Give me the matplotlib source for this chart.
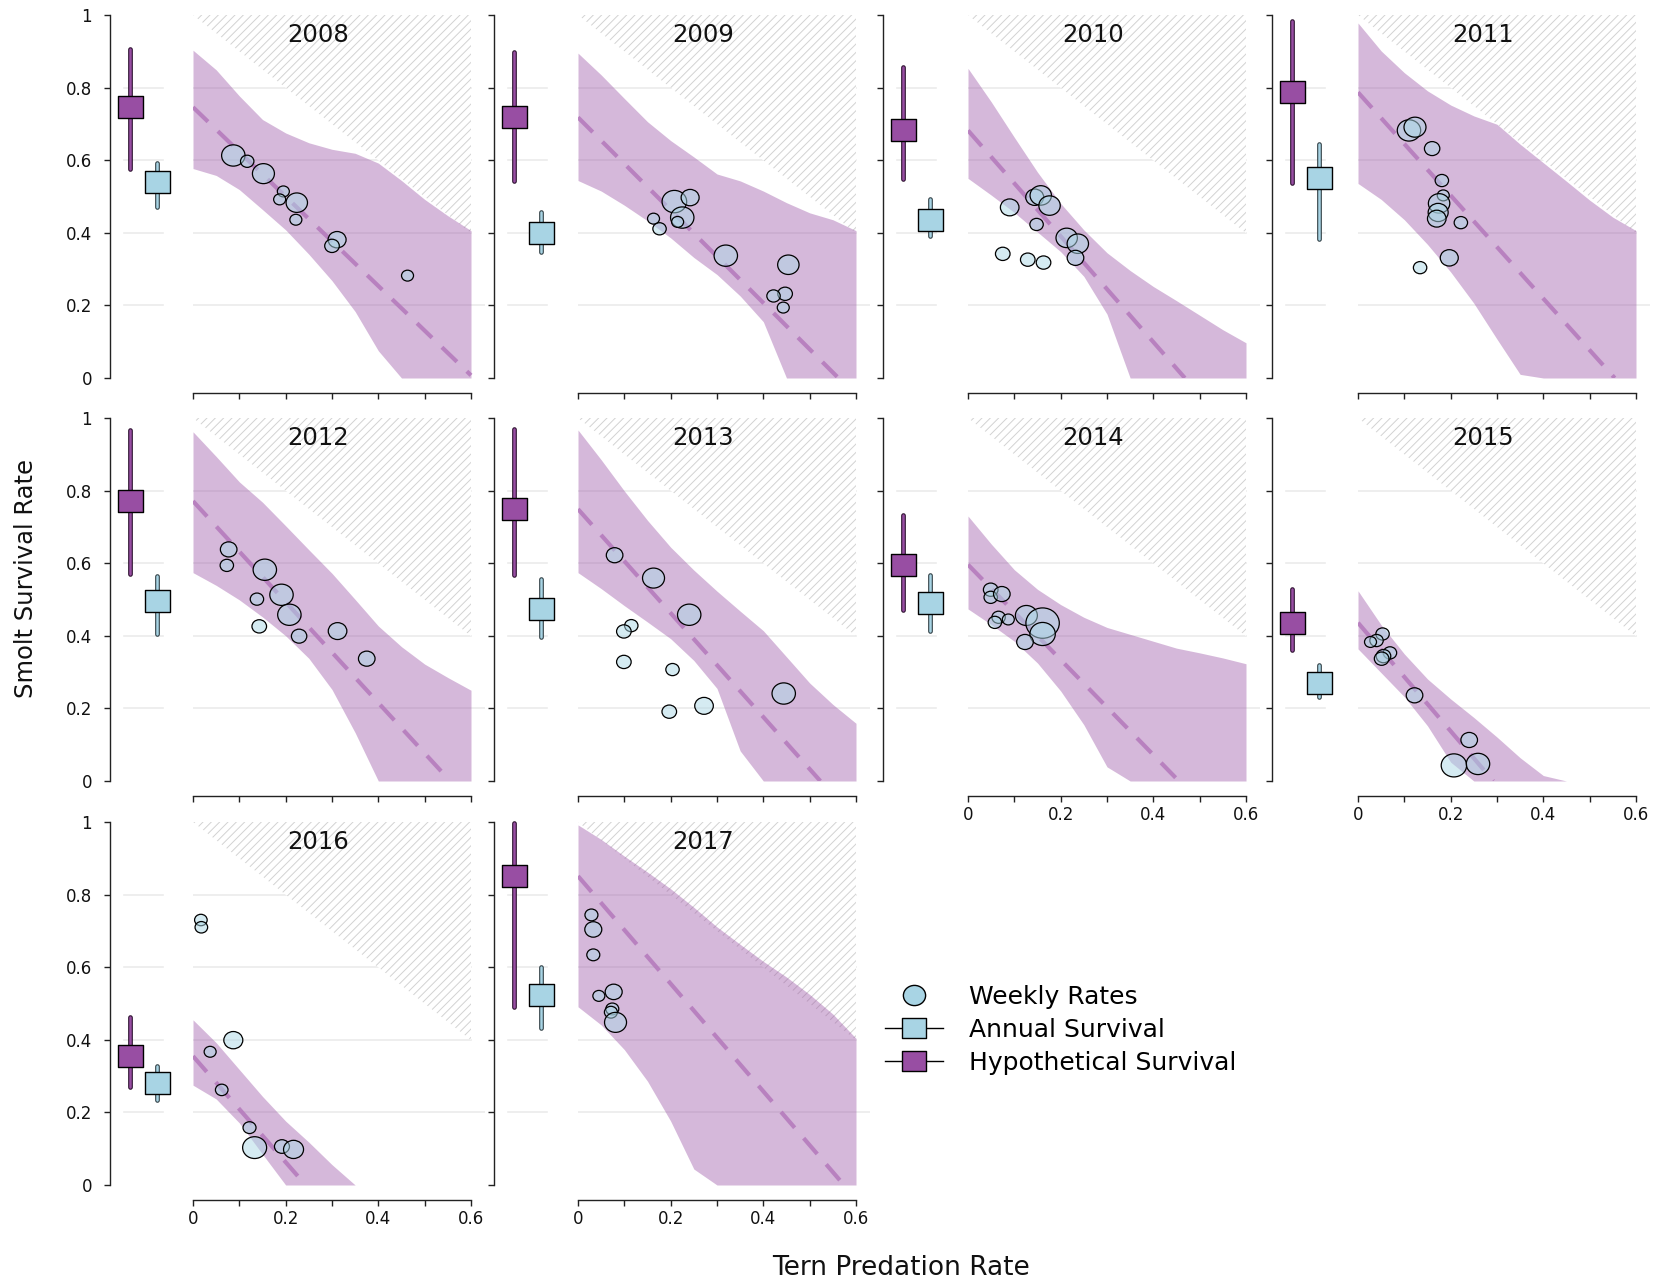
import numpy as np
import matplotlib
matplotlib.use("Agg")
import matplotlib.pyplot as plt
from matplotlib.path import Path
from matplotlib.patches import Polygon
from matplotlib.lines import Line2D

# ---- survival summaries per year ----
years = [2008, 2009, 2010, 2011, 2012, 2013, 2014, 2015, 2016, 2017]

# hypothetical survival (no tern predation): median and interval
hyp_med = [0.746, 0.718, 0.682, 0.787, 0.771, 0.749, 0.596, 0.436, 0.355, 0.851]
hyp_lo = [0.577, 0.544, 0.547, 0.536, 0.570, 0.568, 0.472, 0.362, 0.271, 0.491]
hyp_hi = [0.906, 0.898, 0.856, 0.983, 0.967, 0.969, 0.734, 0.529, 0.462, 0.996]

# observed annual survival: median and interval
ann_med = [0.539, 0.399, 0.436, 0.551, 0.495, 0.474, 0.490, 0.271, 0.280, 0.523]
ann_lo = [0.471, 0.348, 0.390, 0.384, 0.405, 0.396, 0.413, 0.232, 0.234, 0.432]
ann_hi = [0.592, 0.456, 0.492, 0.646, 0.565, 0.556, 0.568, 0.319, 0.328, 0.601]

# predation rate at which the expected survival line reaches zero
zero_at = [0.606, 0.562, 0.468, 0.554, 0.555, 0.523, 0.455, 0.292, 0.243, 0.574]

# credible band of survival vs predation rate
band_x = [0.0, 0.05, 0.1, 0.15, 0.2, 0.25, 0.3, 0.35, 0.4, 0.45, 0.5, 0.55, 0.6]
band_hi = [
    [0.903, 0.849, 0.777, 0.712, 0.675, 0.648, 0.630, 0.619, 0.592, 0.544, 0.492, 0.447, 0.406],
    [0.895, 0.835, 0.770, 0.706, 0.654, 0.609, 0.562, 0.543, 0.515, 0.483, 0.455, 0.436, 0.406],
    [0.853, 0.761, 0.663, 0.567, 0.481, 0.408, 0.345, 0.296, 0.252, 0.213, 0.173, 0.133, 0.097],
    [0.978, 0.901, 0.841, 0.791, 0.752, 0.722, 0.699, 0.644, 0.593, 0.542, 0.490, 0.443, 0.406],
    [0.962, 0.894, 0.824, 0.768, 0.703, 0.637, 0.572, 0.500, 0.427, 0.370, 0.322, 0.285, 0.250],
    [0.967, 0.885, 0.799, 0.718, 0.644, 0.581, 0.523, 0.468, 0.414, 0.342, 0.270, 0.211, 0.159],
    [0.730, 0.653, 0.582, 0.528, 0.486, 0.451, 0.423, 0.404, 0.385, 0.366, 0.353, 0.339, 0.323],
    [0.524, 0.430, 0.350, 0.281, 0.226, 0.175, 0.121, 0.064, 0.015, 0.0, 0.0, 0.0, 0.0],
    [0.455, 0.392, 0.318, 0.244, 0.176, 0.118, 0.056, 0.0, 0.0, 0.0, 0.0, 0.0, 0.0],
    [0.992, 0.952, 0.906, 0.862, 0.816, 0.765, 0.711, 0.663, 0.616, 0.573, 0.525, 0.471, 0.404],
]
band_lo = [
    [0.577, 0.558, 0.519, 0.464, 0.408, 0.341, 0.268, 0.183, 0.075, 0.0, 0.0, 0.0, 0.0],
    [0.544, 0.515, 0.476, 0.433, 0.386, 0.332, 0.285, 0.226, 0.155, 0.0, 0.0, 0.0, 0.0],
    [0.550, 0.504, 0.456, 0.402, 0.348, 0.280, 0.176, 0.0, 0.0, 0.0, 0.0, 0.0, 0.0],
    [0.536, 0.492, 0.436, 0.368, 0.292, 0.206, 0.107, 0.010, 0.0, 0.0, 0.0, 0.0, 0.0],
    [0.574, 0.539, 0.499, 0.452, 0.400, 0.338, 0.252, 0.133, 0.0, 0.0, 0.0, 0.0, 0.0],
    [0.574, 0.530, 0.483, 0.438, 0.392, 0.332, 0.255, 0.083, 0.0, 0.0, 0.0, 0.0, 0.0],
    [0.474, 0.431, 0.385, 0.325, 0.248, 0.155, 0.039, 0.0, 0.0, 0.0, 0.0, 0.0, 0.0],
    [0.364, 0.298, 0.232, 0.152, 0.052, 0.0, 0.0, 0.0, 0.0, 0.0, 0.0, 0.0, 0.0],
    [0.275, 0.237, 0.171, 0.085, 0.0, 0.0, 0.0, 0.0, 0.0, 0.0, 0.0, 0.0, 0.0],
    [0.491, 0.441, 0.373, 0.286, 0.176, 0.044, 0.0, 0.0, 0.0, 0.0, 0.0, 0.0, 0.0],
]

# weekly release groups: predation rate, survival, bubble weight
wk_x = [
    [0.087, 0.117, 0.152, 0.195, 0.187, 0.224, 0.222, 0.311, 0.300, 0.463],
    [0.208, 0.242, 0.225, 0.215, 0.163, 0.176, 0.319, 0.454, 0.447, 0.422, 0.443],
    [0.090, 0.144, 0.157, 0.176, 0.148, 0.213, 0.237, 0.232, 0.075, 0.129, 0.163],
    [0.110, 0.123, 0.160, 0.181, 0.184, 0.175, 0.173, 0.170, 0.222, 0.197, 0.134],
    [0.077, 0.073, 0.155, 0.138, 0.191, 0.208, 0.143, 0.229, 0.312, 0.375],
    [0.079, 0.163, 0.240, 0.115, 0.099, 0.099, 0.204, 0.272, 0.197, 0.444],
    [0.049, 0.049, 0.073, 0.066, 0.058, 0.087, 0.126, 0.161, 0.161, 0.123],
    [0.053, 0.040, 0.027, 0.069, 0.055, 0.051, 0.122, 0.240, 0.207, 0.259],
    [0.017, 0.018, 0.087, 0.037, 0.062, 0.122, 0.133, 0.192, 0.217],
    [0.029, 0.033, 0.033, 0.045, 0.077, 0.074, 0.071, 0.081],
]
wk_y = [
    [0.613, 0.597, 0.563, 0.514, 0.492, 0.483, 0.436, 0.381, 0.364, 0.282],
    [0.486, 0.497, 0.442, 0.430, 0.439, 0.411, 0.337, 0.312, 0.232, 0.226, 0.194],
    [0.470, 0.498, 0.503, 0.475, 0.423, 0.386, 0.370, 0.331, 0.342, 0.326, 0.318],
    [0.682, 0.691, 0.632, 0.544, 0.503, 0.481, 0.456, 0.439, 0.428, 0.331, 0.304],
    [0.638, 0.594, 0.582, 0.501, 0.513, 0.458, 0.426, 0.399, 0.413, 0.337],
    [0.622, 0.559, 0.458, 0.428, 0.412, 0.328, 0.307, 0.207, 0.191, 0.241],
    [0.527, 0.506, 0.515, 0.451, 0.437, 0.445, 0.456, 0.435, 0.405, 0.383],
    [0.405, 0.387, 0.383, 0.353, 0.344, 0.337, 0.236, 0.113, 0.043, 0.047],
    [0.730, 0.710, 0.399, 0.367, 0.262, 0.158, 0.103, 0.106, 0.098],
    [0.744, 0.704, 0.634, 0.521, 0.532, 0.485, 0.476, 0.448],
]
wk_n = [
    [11.7, 6.7, 11.0, 6.0, 6.0, 10.7, 6.0, 9.0, 7.3, 6.0],
    [12.3, 9.0, 11.7, 6.0, 6.0, 6.7, 11.7, 10.7, 7.3, 6.7, 6.0],
    [9.3, 9.0, 10.7, 10.7, 6.7, 10.7, 10.7, 8.3, 7.3, 7.3, 7.3],
    [11.7, 11.0, 7.7, 6.7, 6.0, 10.7, 10.0, 9.3, 6.7, 9.0, 6.7],
    [8.3, 6.7, 11.7, 6.7, 11.7, 11.7, 7.3, 7.7, 9.3, 8.3],
    [8.3, 11.0, 11.7, 6.7, 7.3, 7.3, 6.7, 9.3, 7.3, 11.7],
    [7.3, 6.7, 8.3, 6.7, 6.7, 6.0, 11.0, 16.7, 12.7, 8.3],
    [6.7, 6.7, 6.0, 6.7, 7.3, 7.3, 8.3, 8.3, 12.7, 11.7],
    [6.3, 6.3, 9.5, 6.0, 6.3, 6.5, 12.0, 7.5, 10.0],
    [6.5, 8.5, 6.5, 6.0, 8.5, 6.5, 6.5, 11.0],
]

y_ticks = [0, 0.2, 0.4, 0.6, 0.8, 1]
y_ticklabels = ["0", "0.2", "0.4", "0.6", "0.8", "1"]
x_ticks = [0, 0.2, 0.4, 0.6]
x_ticklabels = ["0", "0.2", "0.4", "0.6"]

# ---- colours ----
purple = "#984ea3"
lightblue = "#a8d4e4"
grid_col = "#ebebeb"
ink = "#222222"

plt.rcParams["font.family"] = "DejaVu Sans"
plt.rcParams["hatch.linewidth"] = 0.7

W, H = 1653, 1281
fig = plt.figure(figsize=(W / 100, H / 100), dpi=100)


def px_rect(x0, ytop, w, h):
    return [x0 / W, 1 - (ytop + h) / H, w / W, h / H]


row_top = [15, 418, 822]
row_h = 363
col_spine = [110, 494, 883, 1272]
col_x0 = [193, 578, 968, 1358]
span = 278  # pixels for 0..0.6 on the predation axis

# slightly wide markers
circ = Path.unit_circle()
ell = Path(circ.vertices * np.array([1.1, 1.0]), circ.codes)
rect = Path([(-1.15, -1), (1.15, -1), (1.15, 1), (-1.15, 1), (-1.15, -1)],
            [Path.MOVETO, Path.LINETO, Path.LINETO, Path.LINETO, Path.CLOSEPOLY])
pt_face = (173 / 255, 216 / 255, 230 / 255, 0.5)


def whisker(ax, x, lo, hi, med, face, dark):
    ax.plot([x, x], [lo, hi], color=dark, lw=3.4, solid_capstyle="round", zorder=2, clip_on=False)
    ax.plot([x, x], [lo, hi], color=face, lw=1.8, solid_capstyle="round", zorder=3, clip_on=False)
    ax.plot([x], [med], marker=rect, ms=18, mfc=face, mec="black", mew=1.0,
            ls="none", zorder=4, clip_on=False)


bottom_panels = [2014, 2015, 2016, 2017]

for i, yr in enumerate(years):
    row, col = divmod(i, 4)
    top = row_top[row]

    # left strip: annual and hypothetical survival
    axm = fig.add_axes(px_rect(col_spine[col], top, 70, row_h))
    axm.set_xlim(0, 1)
    axm.set_ylim(0, 1)
    for g in [0.2, 0.4, 0.6, 0.8]:
        axm.plot([0.2, 0.76], [g, g], color=grid_col, lw=1.2, zorder=0)
    for s in ["top", "right", "bottom"]:
        axm.spines[s].set_visible(False)
    axm.spines["left"].set_bounds(0, 1)
    axm.spines["left"].set_color(ink)
    axm.spines["left"].set_linewidth(1.0)
    axm.set_xticks([])
    axm.set_yticks(y_ticks)
    if col == 0:
        axm.set_yticklabels(y_ticklabels)
    else:
        axm.set_yticklabels([])
    axm.tick_params(axis="y", direction="out", length=4, width=1.0, color=ink,
                    pad=9, labelsize=12, labelcolor="#111111")
    axm.patch.set_alpha(0)
    whisker(axm, 0.29, hyp_lo[i], hyp_hi[i], hyp_med[i], purple, "#2b0f2e")
    whisker(axm, 0.67, ann_lo[i], ann_hi[i], ann_med[i], lightblue, "#2f3e44")

    # main panel: survival vs tern predation rate
    ax = fig.add_axes(px_rect(col_x0[col], top, span * 0.63 / 0.6, row_h))
    ax.set_xlim(0, 0.63)
    ax.set_ylim(0, 1)
    ax.patch.set_alpha(0)
    for g in [0.4, 0.6, 0.8]:
        ax.plot([0, 0.6], [g, g], color=grid_col, lw=1.2, zorder=0)
    ax.plot([0, 0.63], [0.2, 0.2], color=grid_col, lw=1.2, zorder=0)

    # survival above 1 - predation is impossible
    ax.add_patch(Polygon([(0, 1), (0.6, 1), (0.6, 0.4)], closed=True,
                         facecolor="white", edgecolor="#d2d2d2", lw=0,
                         hatch="////", zorder=1))

    ax.fill_between(band_x, band_lo[i], band_hi[i], color=purple, alpha=0.4,
                    lw=0, zorder=2)

    xe = min(zero_at[i], 0.6)
    ye = hyp_med[i] * (1 - xe / zero_at[i])
    ax.plot([0, xe], [hyp_med[i], ye], color="#b57bbd", lw=3, dashes=(5, 3.3),
            zorder=3, alpha=0.9)

    sizes = [(1.44 * n) ** 2 for n in wk_n[i]]
    ax.scatter(wk_x[i], wk_y[i], s=sizes, marker=ell, facecolor=pt_face,
               edgecolor="black", linewidth=0.9, zorder=4, clip_on=False)

    ax.text(0.27, 0.945, str(yr), ha="center", va="center", fontsize=17.5,
            color="#111111", zorder=5)

    for s in ["top", "right", "left"]:
        ax.spines[s].set_visible(False)
    ax.spines["bottom"].set_position(("outward", 10.8))
    ax.spines["bottom"].set_bounds(0, 0.6)
    ax.spines["bottom"].set_color(ink)
    ax.spines["bottom"].set_linewidth(1.0)
    ax.set_yticks([])
    ax.set_xticks(x_ticks)
    ax.set_xticks([0.1, 0.3, 0.5], minor=True)
    if yr in bottom_panels:
        ax.set_xticklabels(x_ticklabels)
    else:
        ax.set_xticklabels([])
    ax.tick_params(axis="x", which="both", direction="out", length=4, width=1.0,
                   color=ink, pad=3.5, labelsize=12, labelcolor="#111111")

# legend in the empty corner
handles = [
    Line2D([], [], ls="none", marker=ell, ms=16, mfc=lightblue, mec="black", mew=1.0),
    Line2D([], [], color="black", lw=1.0, marker=rect, ms=17, mfc=lightblue, mec="black", mew=1.0),
    Line2D([], [], color="black", lw=1.0, marker=rect, ms=17, mfc=purple, mec="black", mew=1.0),
]
labels = ["Weekly Rates", "Annual Survival", "Hypothetical Survival"]
fig.legend(handles, labels, loc="upper left", bbox_to_anchor=(885 / W, 1 - 985 / H),
           frameon=False, borderpad=0, borderaxespad=0, handlelength=2.3,
           handletextpad=1.05, labelspacing=0.36, prop={"size": 18})

fig.text(26 / W, 1 - 578 / H, "Smolt Survival Rate", rotation=90, ha="center",
         va="center", fontsize=17.5, color="#111111")
fig.text(901 / W, 1 - 1268 / H, "Tern Predation Rate", ha="center", va="center",
         fontsize=19, color="#111111")

fig.savefig("out.png", dpi=100)
